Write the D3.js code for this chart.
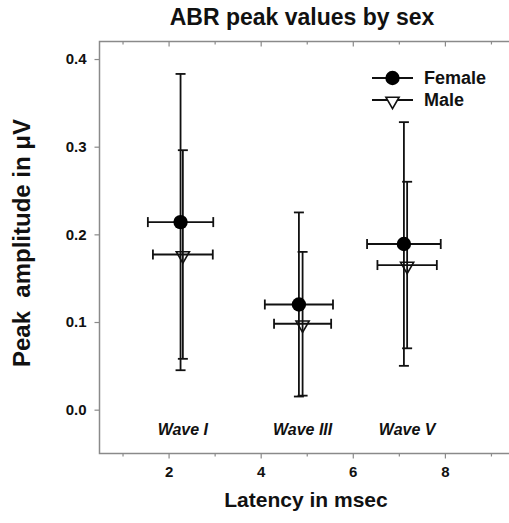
<!DOCTYPE html>
<html>
<head>
<meta charset="utf-8">
<script src="https://cdn.jsdelivr.net/npm/d3@7"></script>
<style>
  html, body { margin: 0; padding: 0; background: #fff; }
  svg { display: block; font-family: "Liberation Sans", Arial, sans-serif; }
</style>
</head>
<body>
<svg id="chart" width="509" height="523"></svg>
<script>
// ---- data ----
const waves = ["Wave I", "Wave III", "Wave V"];
const series = ["Female", "Male"];
const femaleLatency   = [2.26, 4.83, 7.11];
const femaleLatencySD = [0.71, 0.74, 0.80];
const femaleAmp       = [0.214, 0.120, 0.189];
const femaleAmpSD     = [0.169, 0.105, 0.139];
const maleLatency     = [2.31, 4.91, 7.18];
const maleLatencySD   = [0.65, 0.62, 0.645];
const maleAmp         = [0.177, 0.098, 0.165];
const maleAmpSD       = [0.119, 0.082, 0.095];
const xTicks = [2, 4, 6, 8];
const xMinorTicks = [1, 3, 5, 7, 9];
const yTicks = [0.0, 0.1, 0.2, 0.3, 0.4];

const svg = d3.select("#chart");
const plot = { left: 99.5, top: 41.5, bottom: 453.5, right: 537 };

const x = d3.scaleLinear().domain([0.5, 10]).range([plot.left, plot.right]);
const y = d3.scaleLinear().domain([-0.05, 0.42]).range([plot.bottom, plot.top]);

const axisColor = "#8a8a8a";
const textColor = "#111";

// frame
svg.append("rect")
  .attr("x", plot.left).attr("y", plot.top)
  .attr("width", plot.right - plot.left).attr("height", plot.bottom - plot.top)
  .attr("fill", "none").attr("stroke", axisColor).attr("stroke-width", 1.5);

// bottom axis
const xAxis = d3.axisBottom(x).tickValues(xTicks).tickSize(5).tickPadding(8).tickFormat(d3.format("d"));
const gx = svg.append("g").attr("transform", `translate(0,${plot.bottom})`).call(xAxis);
gx.select(".domain").remove();
gx.selectAll(".tick line").attr("stroke", axisColor).attr("stroke-width", 1.2);
gx.selectAll(".tick text").attr("font-size", 15).attr("font-weight", "bold").attr("fill", textColor)
  .attr("font-family", "Liberation Sans, Arial, sans-serif");
const gxm = svg.append("g").attr("transform", `translate(0,${plot.bottom})`)
  .call(d3.axisBottom(x).tickValues(xMinorTicks).tickSize(3).tickFormat(""));
gxm.select(".domain").remove();
gxm.selectAll(".tick line").attr("stroke", axisColor).attr("stroke-width", 1.2);

// top mirror ticks (inward)
const gt = svg.append("g").attr("transform", `translate(0,${plot.top})`)
  .call(d3.axisTop(x).tickValues(xTicks).tickSize(-5).tickFormat(""));
gt.select(".domain").remove();
gt.selectAll(".tick line").attr("stroke", axisColor).attr("stroke-width", 1.2);
const gtm = svg.append("g").attr("transform", `translate(0,${plot.top})`)
  .call(d3.axisTop(x).tickValues(xMinorTicks).tickSize(-3).tickFormat(""));
gtm.select(".domain").remove();
gtm.selectAll(".tick line").attr("stroke", axisColor).attr("stroke-width", 1.2);

// left axis
const yAxis = d3.axisLeft(y).tickValues(yTicks).tickSize(5).tickPadding(8).tickFormat(d3.format(".1f"));
const gy = svg.append("g").attr("transform", `translate(${plot.left},0)`).call(yAxis);
gy.select(".domain").remove();
gy.selectAll(".tick line").attr("stroke", axisColor).attr("stroke-width", 1.2);
gy.selectAll(".tick text").attr("font-size", 15).attr("font-weight", "bold").attr("fill", textColor)
  .attr("font-family", "Liberation Sans, Arial, sans-serif");

// titles
svg.append("text").attr("x", 302).attr("y", 25).attr("text-anchor", "middle")
  .attr("font-size", 23).attr("font-weight", "bold").attr("fill", textColor)
  .text("ABR peak values by sex");
svg.append("text").attr("x", 306).attr("y", 507).attr("text-anchor", "middle")
  .attr("font-size", 21).attr("font-weight", "bold").attr("fill", textColor)
  .text("Latency in msec");
svg.append("text").attr("transform", `translate(30,${243}) rotate(-90)`).attr("text-anchor", "middle")
  .attr("font-size", 24).attr("font-weight", "bold").attr("fill", textColor)
  .style("white-space", "pre").attr("xml:space", "preserve")
  .text("Peak  amplitude in \u03BCV");

// wave labels
svg.append("g").selectAll("text").data(waves).join("text")
  .attr("x", (d, i) => x(maleLatency[i]))
  .attr("y", 435)
  .attr("text-anchor", "middle")
  .attr("font-size", 16).attr("font-weight", "bold").attr("font-style", "italic").attr("fill", textColor)
  .text(d => d);

// error bars
function errorBars(lat, latSD, amp, ampSD) {
  const g = svg.append("g").attr("stroke", "#111").attr("stroke-width", 1.8).attr("fill", "none");
  const capV = 5, capH = 5;
  waves.forEach((w, i) => {
    const cx = x(lat[i]), cy = y(amp[i]);
    const y0 = y(amp[i] - ampSD[i]), y1 = y(amp[i] + ampSD[i]);
    const x0 = x(lat[i] - latSD[i]), x1 = x(lat[i] + latSD[i]);
    g.append("line").attr("x1", cx).attr("x2", cx).attr("y1", y0).attr("y2", y1);
    g.append("line").attr("x1", cx - capV).attr("x2", cx + capV).attr("y1", y0).attr("y2", y0);
    g.append("line").attr("x1", cx - capV).attr("x2", cx + capV).attr("y1", y1).attr("y2", y1);
    g.append("line").attr("x1", x0).attr("x2", x1).attr("y1", cy).attr("y2", cy);
    g.append("line").attr("x1", x0).attr("x2", x0).attr("y1", cy - capH).attr("y2", cy + capH);
    g.append("line").attr("x1", x1).attr("x2", x1).attr("y1", cy - capH).attr("y2", cy + capH);
  });
}
errorBars(maleLatency, maleLatencySD, maleAmp, maleAmpSD);
errorBars(femaleLatency, femaleLatencySD, femaleAmp, femaleAmpSD);

const tri = d3.symbol().type(d3.symbolTriangle).size(75);
// male markers (open down triangles)
svg.append("g").selectAll("path").data(waves).join("path")
  .attr("d", tri)
  .attr("transform", (d, i) => `translate(${x(maleLatency[i])},${y(maleAmp[i]) + 1}) rotate(180)`)
  .attr("fill", "none").attr("stroke", "#111").attr("stroke-width", 1.6);
// female markers (filled circles)
svg.append("g").selectAll("circle").data(waves).join("circle")
  .attr("cx", (d, i) => x(femaleLatency[i]))
  .attr("cy", (d, i) => y(femaleAmp[i]))
  .attr("r", 7.2).attr("fill", "#000");

// legend
const legend = svg.append("g");
const legY = [78, 100];
series.forEach((s, i) => {
  const g = legend.append("g").attr("transform", `translate(0,${legY[i]})`);
  g.append("line").attr("x1", 372).attr("x2", 413).attr("y1", 0).attr("y2", 0)
    .attr("stroke", "#111").attr("stroke-width", 1.8);
  if (i === 0) {
    g.append("circle").attr("cx", 392.5).attr("cy", 0).attr("r", 7.2).attr("fill", "#000");
  } else {
    g.append("path").attr("d", tri).attr("transform", "translate(392.5,1) rotate(180)")
      .attr("fill", "#fff").attr("stroke", "#111").attr("stroke-width", 1.6);
  }
  g.append("text").attr("x", 424).attr("y", 5.5).attr("font-size", 18).attr("font-weight", "bold")
    .attr("fill", textColor).text(s);
});
</script>
</body>
</html>
